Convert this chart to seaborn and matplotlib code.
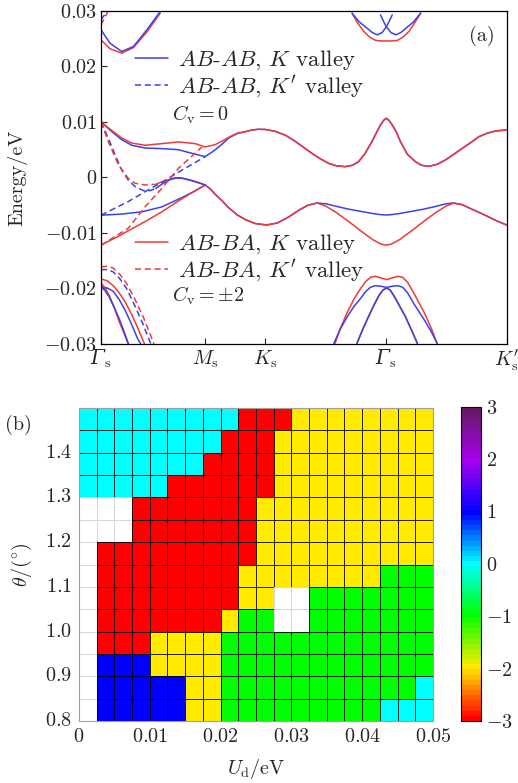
import numpy as np
import pandas as pd
import matplotlib
matplotlib.use("Agg")
import matplotlib.pyplot as plt
import seaborn as sns
from matplotlib.colors import LinearSegmentedColormap
from matplotlib.lines import Line2D
from matplotlib.ticker import FuncFormatter

sns.set_style("ticks")
plt.rcParams.update({
    "font.family": "serif",
    "font.serif": ["cmr10"],
    "mathtext.fontset": "cm",
    "mathtext.rm": "DejaVu Serif:italic",
    "mathtext.it": "DejaVu Serif:italic",
    "mathtext.sf": "cmr10",
    "axes.unicode_minus": False,
    "axes.formatter.use_mathtext": True,
    "font.size": 14.5,
})
FS = 14.5
FS_LEG = 16.5

# ---------------- panel (a): band data (k along path, E in meV) ----------------
k_ticks = [0.0, 0.257, 0.405, 0.703, 1.0]
k_tick_labels = [r"$\Gamma_{\mathsf{s}}$", r"$M_{\rm s}$", r"$K_{\rm s}$",
                 r"$\Gamma_{\mathsf{s}}$", r"$K_{\rm s}^{\prime}$"]

# Gamma -> M part of the two flat bands
k_GM = [0.0, 0.026, 0.051, 0.076, 0.109, 0.15, 0.191, 0.232, 0.257]
E_up_blue_GM = [10.0, 8.3, 6.8, 5.8, 5.3, 5.2, 5.0, 4.2, 3.75]
E_up_red_GM = [10.0, 8.5, 7.1, 6.2, 5.8, 6.1, 6.4, 6.1, 5.5]
k_lo_GM = [0.0, 0.05, 0.1, 0.15, 0.2, 0.23, 0.257]
E_lo_blue_GM = [-6.8, -6.6, -6.2, -5.3, -3.6, -2.5, -1.35]
E_lo_red_GM = [-12.2, -10.3, -8.3, -6.2, -3.8, -2.5, -1.35]

# upper flat band M -> K -> Gamma -> K'
k_up_MK_blue = [0.281, 0.3, 0.314, 0.335, 0.356]
E_up_MK_blue = [4.95, 6.1, 7.06, 7.9, 8.26]
k_up_MK_red = [0.281, 0.3, 0.314, 0.335, 0.356]
E_up_MK_red = [5.9, 6.6, 7.2, 7.95, 8.26]
k_up_common = [0.372, 0.388, 0.405, 0.43, 0.455, 0.479, 0.5, 0.52, 0.54, 0.561, 0.58, 0.602,
               0.62, 0.635, 0.65, 0.668, 0.68, 0.689, 0.697, 0.703, 0.71, 0.718, 0.728,
               0.738, 0.755, 0.775, 0.79, 0.808, 0.83, 0.849, 0.87, 0.891, 0.912, 0.932,
               0.953, 0.973, 1.0]
E_up_common = [8.55, 8.68, 8.65, 8.3, 7.6, 6.5, 5.4, 4.35, 3.4, 2.55, 2.1, 1.95,
               2.2, 2.85, 4.2, 6.46, 8.2, 9.46, 10.3, 10.66, 10.3, 9.46, 8.2,
               6.5, 4.2, 2.85, 2.2, 2.0, 2.4, 3.15, 4.2, 5.26, 6.3, 7.36,
               8.0, 8.38, 8.56]

# lower flat band M -> K -> ...
k_lo_common = [0.27, 0.281, 0.3, 0.314, 0.335, 0.356, 0.38, 0.408, 0.435, 0.463, 0.49, 0.51, 0.533]
E_lo_common = [-2.1, -3.0, -4.3, -5.4, -6.7, -7.6, -8.3, -8.56, -8.2, -7.1, -5.8, -5.0, -4.6]
k_lo_tail = [0.555, 0.58, 0.61, 0.64, 0.67, 0.69, 0.703, 0.716, 0.736, 0.766, 0.796, 0.826, 0.85,
             0.869, 0.89, 0.92, 0.95, 0.975, 1.0]
E_lo_blue_tail = [-4.75, -5.2, -5.7, -6.1, -6.5, -6.7, -6.76, -6.7, -6.5, -6.1, -5.7, -5.2, -4.75,
                  -4.6, -4.9, -5.9, -6.9, -7.8, -8.56]
E_lo_red_tail = [-5.2, -6.3, -7.9, -9.6, -11.2, -12.0, -12.2, -12.0, -11.2, -9.6, -7.9, -6.3, -5.2,
                 -4.6, -4.9, -5.9, -6.9, -7.8, -8.56]

# K' valley (dashed), Gamma -> M
k_d1_blue = [0.0, 0.018, 0.035, 0.051, 0.067, 0.084, 0.105, 0.121, 0.135]
E_d1_blue = [10.0, 7.06, 4.05, 1.35, -0.45, -1.65, -2.37, -2.37, -2.0]
k_d1_red = [0.0, 0.018, 0.043, 0.067, 0.084, 0.109, 0.133]
E_d1_red = [10.0, 6.46, 2.25, -0.15, -1.05, -1.35, -1.23]
k_hump = [0.135, 0.15, 0.17, 0.185, 0.2, 0.22, 0.24, 0.257]
E_hump_blue = [-2.0, -1.2, -0.4, -0.1, -0.15, -0.5, -0.95, -1.35]
E_hump_red = [-1.23, -0.8, -0.3, -0.05, -0.1, -0.45, -0.9, -1.35]
k_d2_blue = [0.0, 0.067, 0.109, 0.15, 0.2, 0.257]
E_d2_blue = [-6.8, -4.35, -2.55, -0.87, 1.35, 3.75]
k_d2_red = [0.0, 0.067, 0.109, 0.15, 0.191, 0.249]
E_d2_red = [-12.2, -9.16, -5.26, -1.95, 1.65, 5.5]

# remote bands near left Gamma (top)
k_rt = [0.0, 0.022, 0.051, 0.08, 0.113, 0.146]
E_rt_blue = [26.6, 24.2, 22.7, 23.6, 26.6, 29.9]
E_rt_red = [24.8, 23.2, 22.4, 23.4, 26.2, 29.6]
k_rt2 = [0.0, 0.025]
E_rt2_blue = [28.4, 31.0]
E_rt2_red = [27.5, 31.0]

# remote bands near central Gamma (top)
k_ct_a = [0.619, 0.637, 0.656, 0.669, 0.681, 0.693, 0.704, 0.711, 0.718]
E_ct_a = [29.6, 28.0, 26.9, 26.1, 25.7, 26.1, 27.2, 28.2, 29.3]
k_ct_b = [0.689, 0.696, 0.703, 0.715, 0.727, 0.739, 0.752, 0.770, 0.788]
E_ct_b = [29.3, 28.2, 27.2, 26.1, 25.7, 26.1, 26.9, 28.0, 29.6]
k_ct_r = [0.619, 0.633, 0.648, 0.662, 0.677, 0.69, 0.704, 0.718, 0.731, 0.745, 0.759, 0.773, 0.788]
E_ct_r = [29.6, 27.8, 26.3, 25.3, 24.7, 24.6, 24.6, 24.6, 24.7, 25.3, 26.3, 27.8, 29.6]

# remote bands near central Gamma (bottom)
k_cb_outer = [0.574, 0.59, 0.607, 0.623, 0.640, 0.652, 0.664, 0.676, 0.69, 0.704, 0.718, 0.732,
              0.744, 0.756, 0.771, 0.785, 0.800, 0.815, 0.829]
E_cb_outer_blue = [-29.9, -27.3, -25.1, -23.3, -21.8, -20.6, -19.8, -19.5, -19.6, -19.8, -19.6, -19.5,
                   -19.8, -20.8, -22.7, -24.3, -26.0, -27.9, -29.9]
E_cb_outer_red = [-30.5, -27.2, -24.3, -22.0, -20.0, -18.8, -18.0, -17.8, -18.1, -18.4, -18.1, -17.8,
                  -18.0, -18.9, -20.8, -22.7, -24.8, -27.3, -30.0]
k_cb_inner = [0.631, 0.645, 0.66, 0.673, 0.685, 0.695, 0.704, 0.713, 0.722, 0.735, 0.75, 0.765, 0.780]
E_cb_inner = [-29.9, -27.4, -25.0, -23.0, -21.3, -20.3, -19.9, -20.3, -21.3, -23.0, -25.0, -27.4, -29.9]

# remote bands near left Gamma (bottom)
k_lb = [0.0, 0.015, 0.03, 0.047, 0.063, 0.084, 0.104, 0.12, 0.133]
E_lb_red_d = [-16.1, -16.0, -16.3, -17.5, -19.1, -22.0, -25.1, -28.0, -30.5]
E_lb_blue_d = [-16.6, -16.6, -17.0, -18.3, -20.0, -23.2, -26.5, -29.5, -31.5]
k_lb2 = [0.0, 0.015, 0.03, 0.045, 0.06, 0.075, 0.09, 0.11]
E_lb_red_s = [-18.3, -18.6, -19.5, -20.8, -22.5, -24.6, -27.0, -30.5]
E_lb_blue_s = [-19.7, -19.9, -20.5, -22.0, -24.0, -26.4, -29.0, -31.5]
k_lb3 = [0.0, 0.01, 0.02, 0.033, 0.045, 0.058, 0.07]
E_lb_blue_s2 = [-19.7, -20.4, -21.5, -23.5, -25.5, -28.0, -30.5]
E_lb_red_s2 = [-19.0, -19.9, -21.2, -23.5, -26.0, -28.3, -30.5]

BLUE = "#3b42e6"
RED = "#ee3a3a"
SOLID = "-"
DASH = (0, (4, 2.4))

bands = [
    (k_GM + k_up_MK_blue + k_up_common, E_up_blue_GM + E_up_MK_blue + E_up_common, BLUE, SOLID),
    (k_GM + k_up_MK_red + k_up_common, E_up_red_GM + E_up_MK_red + E_up_common, RED, SOLID),
    (k_lo_GM + k_lo_common + k_lo_tail, E_lo_blue_GM + E_lo_common + E_lo_blue_tail, BLUE, SOLID),
    (k_lo_GM + k_lo_common + k_lo_tail, E_lo_red_GM + E_lo_common + E_lo_red_tail, RED, SOLID),
    (k_d1_blue, E_d1_blue, BLUE, DASH),
    (k_d1_red, E_d1_red, RED, DASH),
    (k_hump, E_hump_red, RED, SOLID),
    (k_hump, E_hump_blue, BLUE, SOLID),
    (k_d2_blue, E_d2_blue, BLUE, DASH),
    (k_d2_red, E_d2_red, RED, DASH),
    (k_rt, E_rt_red, RED, SOLID),
    (k_rt, E_rt_blue, BLUE, SOLID),
    (k_rt2, E_rt2_red, RED, DASH),
    (k_rt2, E_rt2_blue, BLUE, DASH),
    (k_ct_r, E_ct_r, RED, SOLID),
    (k_ct_a, E_ct_a, BLUE, SOLID),
    (k_ct_b, E_ct_b, BLUE, SOLID),
    (k_cb_outer, E_cb_outer_red, RED, SOLID),
    (k_cb_outer, E_cb_outer_blue, BLUE, SOLID),
    (k_cb_inner, E_cb_inner, RED, SOLID),
    (k_cb_inner, E_cb_inner, BLUE, SOLID),
    (k_lb, E_lb_red_d, RED, DASH),
    (k_lb, E_lb_blue_d, BLUE, DASH),
    (k_lb2, E_lb_red_s, RED, SOLID),
    (k_lb2, E_lb_blue_s, BLUE, SOLID),
    (k_lb3, E_lb_red_s2, RED, SOLID),
    (k_lb3, E_lb_blue_s2, BLUE, SOLID),
]

# ---------------- panel (b): Chern number grid ----------------
U_ticks = [0, 0.01, 0.02, 0.03, 0.04, 0.05]
theta_ticks = [0.8, 0.9, 1.0, 1.1, 1.2, 1.3, 1.4]
U_step = 0.0025
theta_top = 1.5
theta_step = 0.05
N = np.nan
# rows from theta 1.45-1.50 (top) down to 0.80-0.85 (bottom); columns U = 0 ... 0.05
chern = [
    [0, 0, 0, 0, 0, 0, 0, 0, 0, -3, -3, -3, -2, -2, -2, -2, -2, -2, -2, -2],
    [0, 0, 0, 0, 0, 0, 0, 0, -3, -3, -3, -2, -2, -2, -2, -2, -2, -2, -2, -2],
    [0, 0, 0, 0, 0, 0, 0, -3, -3, -3, -3, -2, -2, -2, -2, -2, -2, -2, -2, -2],
    [0, 0, 0, 0, 0, -3, -3, -3, -3, -3, -3, -2, -2, -2, -2, -2, -2, -2, -2, -2],
    [N, N, N, -3, -3, -3, -3, -3, -3, -3, -2, -2, -2, -2, -2, -2, -2, -2, -2, -2],
    [N, N, N, -3, -3, -3, -3, -3, -3, -3, -2, -2, -2, -2, -2, -2, -2, -2, -2, -2],
    [N, -3, -3, -3, -3, -3, -3, -3, -3, -3, -2, -2, -2, -2, -2, -2, -2, -2, -2, -2],
    [N, -3, -3, -3, -3, -3, -3, -3, -3, -2, -2, -2, -2, -2, -2, -2, -2, -1, -1, -1],
    [N, -3, -3, -3, -3, -3, -3, -3, -3, -2, -2, N, N, -1, -1, -1, -1, -1, -1, -1],
    [N, -3, -3, -3, -3, -3, -3, -3, -2, -1, -1, N, N, -1, -1, -1, -1, -1, -1, -1],
    [N, -3, -3, -3, -2, -2, -2, -2, -1, -1, -1, -1, -1, -1, -1, -1, -1, -1, -1, -1],
    [N, 1, 1, 1, -2, -2, -2, -2, -1, -1, -1, -1, -1, -1, -1, -1, -1, -1, -1, -1],
    [N, 1, 1, 1, 1, 1, -2, -2, -1, -1, -1, -1, -1, -1, -1, -1, -1, -1, -1, 0],
    [N, 1, 1, 1, 1, 1, -2, -2, -1, -1, -1, -1, -1, -1, -1, -1, -1, 0, 0, 0],
]
cbar_ticks = [-3, -2, -1, 0, 1, 2, 3]

# ---------------- figure ----------------
fig = plt.figure(figsize=(5.18, 7.83), dpi=100)
axa = fig.add_axes([0.195, 0.5607, 0.783, 0.4253])

for k, E, c, ls in bands:
    df = pd.DataFrame({"k": k, "E": np.array(E) * 1e-3})
    sns.lineplot(data=df, x="k", y="E", ax=axa, color=c, linestyle=ls, lw=1.1,
                 sort=False, estimator=None, legend=False)

axa.set_xlim(0, 1)
axa.set_ylim(-0.03, 0.03)
axa.set_xticks(k_ticks)
axa.set_xticklabels(k_tick_labels, fontsize=FS)
for i in (0, 3):
    axa.get_xticklabels()[i].set_math_fontfamily("custom")
yt = [-0.03, -0.02, -0.01, 0, 0.01, 0.02, 0.03]
axa.set_yticks(yt)
axa.yaxis.set_major_formatter(FuncFormatter(lambda v, p: "$0$" if abs(v) < 1e-9 else f"${v:.2f}$"))
axa.tick_params(direction="in", length=4, width=0.8, labelsize=FS, pad=3)
axa.set_xlabel("")
axa.set_ylabel("Energy/eV", fontsize=FS, labelpad=12)
for s in axa.spines.values():
    s.set_linewidth(0.9)
    s.set_color("black")

h1 = [Line2D([], [], color=BLUE, lw=1.1, ls=SOLID), Line2D([], [], color=BLUE, lw=1.1, ls=DASH)]
l1 = [r"$AB$-$AB$, $K$ valley", r"$AB$-$AB$, $K'$ valley"]
h2 = [Line2D([], [], color=RED, lw=1.1, ls=SOLID), Line2D([], [], color=RED, lw=1.1, ls=DASH)]
l2 = [r"$AB$-$BA$, $K$ valley", r"$AB$-$BA$, $K'$ valley"]
leg_kw = dict(loc="upper left", frameon=False, borderpad=0, borderaxespad=0,
              handlelength=1.45, handletextpad=0.44, labelspacing=0.05, fontsize=FS_LEG)
leg1 = axa.legend(h1, l1, bbox_to_anchor=(0.083, 0.887), **leg_kw)
axa.add_artist(leg1)
axa.legend(h2, l2, bbox_to_anchor=(0.083, 0.335), **leg_kw)
axa.text(0.175, 0.688, r"$C_{\rm v}=0$", transform=axa.transAxes, fontsize=FS, va="center")
axa.text(0.175, 0.144, r"$C_{\rm v}=\pm 2$", transform=axa.transAxes, fontsize=FS, va="center")
axa.text(0.94, 0.925, "(a)", transform=axa.transAxes, fontsize=FS, ha="center", va="center")

# panel (b)
Z = np.array(chern, dtype=float)
nan_mask = np.isnan(Z)
axb = fig.add_axes([0.1525, 0.0792, 0.6834, 0.3997])
cax = fig.add_axes([0.889, 0.0792, 0.0405, 0.4015])

cmap = LinearSegmentedColormap.from_list(
    "chern",
    [(0.0, "#ff0000"), (1 / 6, "#ffea00"), (2 / 6, "#00ff00"), (3 / 6, "#00ffff"),
     (4 / 6, "#0000ff"), (5 / 6, "#a800ee"), (1.0, "#641a64")], N=61)

sns.heatmap(Z, ax=axb, cmap=cmap, vmin=-3, vmax=3, mask=nan_mask, cbar_ax=cax,
            linewidths=0.6, linecolor=(0, 0, 0, 0.85))
mesh = axb.collections[0]
dark = (0.0, 0.0, 0.0, 0.85)
light = (0.84, 0.84, 0.84, 1.0)
mesh.set_edgecolor([light if m else dark for m in nan_mask.ravel()])

axb.set_xticks([u / U_step for u in U_ticks])
axb.set_xticklabels(["$0$" if u == 0 else f"${u:.2f}$" for u in U_ticks], rotation=0)
axb.set_yticks([(theta_top - t) / theta_step for t in theta_ticks])
axb.set_yticklabels([f"${t:.1f}$" for t in theta_ticks], rotation=0)
axb.tick_params(length=0, labelsize=FS, pad=5)
for s in axb.spines.values():
    s.set_visible(True)
    s.set_color("#a0a0a0")
    s.set_linewidth(0.8)
axb.set_xlabel(r"$U_{\rm d}$/eV", fontsize=FS, labelpad=8)
axb.set_ylabel(r"$\theta/(^{\circ})$", fontsize=FS, labelpad=8)
axb.yaxis.label.set_math_fontfamily("cm")

cb = mesh.colorbar
cb.set_ticks(cbar_ticks)
cb.ax.yaxis.set_major_formatter(FuncFormatter(lambda v, p: f"${int(round(v))}$"))
cb.outline.set_visible(True)
cb.outline.set_edgecolor("black")
cb.outline.set_linewidth(0.8)
cax.tick_params(direction="in", length=4, width=0.8, labelsize=FS, right=True, left=False)

fig.text(0.036, 0.457, "(b)", fontsize=FS, ha="center", va="center")

fig.savefig("out.png", dpi=100)
